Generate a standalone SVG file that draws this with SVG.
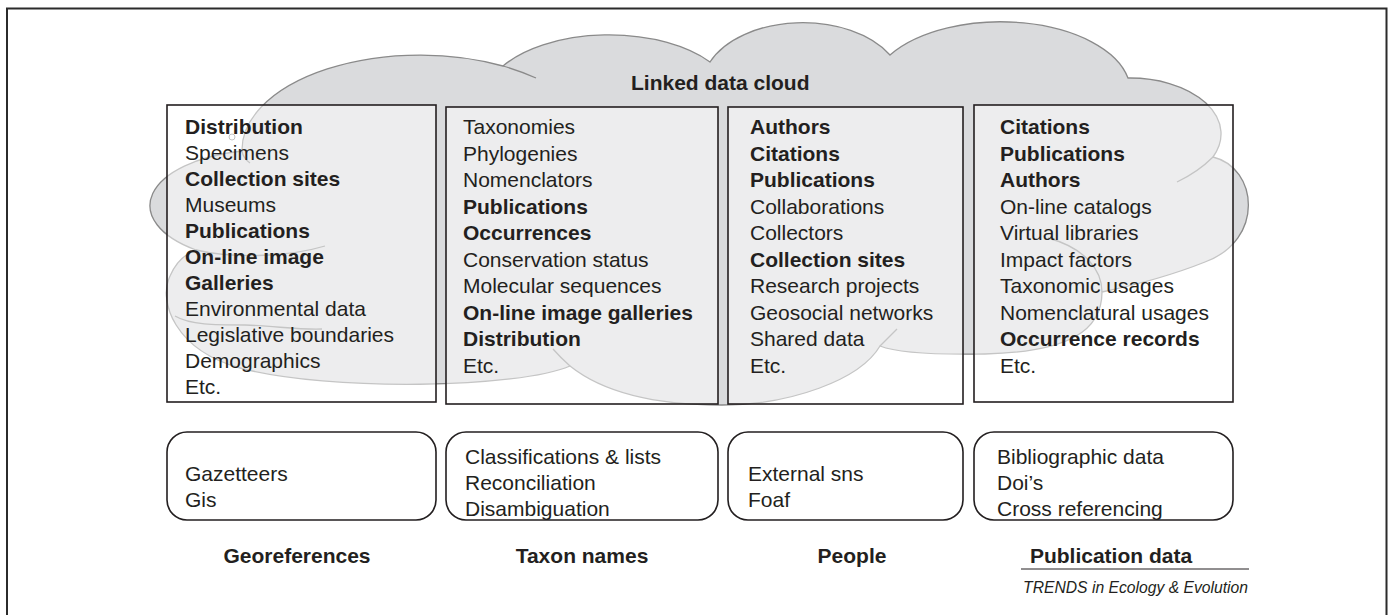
<svg xmlns="http://www.w3.org/2000/svg" width="1391" height="615" viewBox="0 0 1391 615">
<style>
text{font-family:"Liberation Sans",Arial,Helvetica,sans-serif;fill:#231f20;font-size:21px}
.b{font-weight:bold}
.cloud{fill:#dadbdd;stroke:#8a8a8a;stroke-width:1.3}
.tail{fill:none;stroke:#8a8a8a;stroke-width:1.3}
.box{fill:#ffffff;fill-opacity:0.5;stroke:#231f20;stroke-width:1.6}
.rbox{fill:#ffffff;stroke:#231f20;stroke-width:1.6}
</style>
<rect width="1391" height="615" fill="#ffffff"/>
<path d="M7,620 V8.5 H1386.5 V620" fill="none" stroke="#2b2b2b" stroke-width="2"/>
<g id="cloud">
<path class="cloud" d="M242,151 A178,95 0 0 1 503,66 A125,66 0 0 1 710,62 A100,63 0 0 1 890,55 A130,70 0 0 1 1128,78 A91,56 0 0 1 1213,157 C1258,168 1265,240 1205,262 C1175,274 1140,284 1102,292 C1102,330 1070,352 985,354 C930,355 895,352 880,346 C860,380 790,405 722,405 C650,405 600,390 570,366 C520,388 330,392 240,368 C175,350 158,302 170,276 C176,262 185,254 196,250 A118,56 0 0 1 242,151 Z"/>
<path class="tail" d="M242,151 Q243,158 250,163"/>
<path class="tail" d="M503,66 Q520,71 536,78"/>
<path class="tail" d="M1213,157 Q1198,172 1177,182"/>
<path class="tail" d="M1102,292 C1102,270 1085,248 1048,238"/>
<path class="tail" d="M880,346 Q888,338 897,329"/>
<path class="tail" d="M570,366 Q560,357 553,349"/>
<path class="tail" d="M196,250 C230,258 285,258 325,246"/>
<path class="tail" d="M175,316 C190,325 215,325 245,325 C275,326 300,330 322,329"/>
<circle cx="232" cy="137" r="3" fill="none" stroke="#8a8a8a" stroke-width="1"/>
</g>
<g id="box-georeferences">
<rect class="box" x="167" y="105" width="269" height="297"/>
<text x="185" y="134"><tspan class="b">Distribution</tspan><tspan x="185" dy="26">Specimens</tspan><tspan x="185" dy="26" class="b">Collection sites</tspan><tspan x="185" dy="26">Museums</tspan><tspan x="185" dy="26" class="b">Publications</tspan><tspan x="185" dy="26" class="b">On-line image</tspan><tspan x="185" dy="26" class="b">Galleries</tspan><tspan x="185" dy="26">Environmental data</tspan><tspan x="185" dy="26">Legislative boundaries</tspan><tspan x="185" dy="26">Demographics</tspan><tspan x="185" dy="26">Etc.</tspan></text>
</g>
<g id="box-taxon">
<rect class="box" x="446" y="107" width="272" height="297"/>
<text x="463" y="134"><tspan>Taxonomies</tspan><tspan x="463" dy="26.5">Phylogenies</tspan><tspan x="463" dy="26.5">Nomenclators</tspan><tspan x="463" dy="26.5" class="b">Publications</tspan><tspan x="463" dy="26.5" class="b">Occurrences</tspan><tspan x="463" dy="26.5">Conservation status</tspan><tspan x="463" dy="26.5">Molecular sequences</tspan><tspan x="463" dy="26.5" class="b">On-line image galleries</tspan><tspan x="463" dy="26.5" class="b">Distribution</tspan><tspan x="463" dy="26.5">Etc.</tspan></text>
</g>
<g id="box-people">
<rect class="box" x="728" y="107" width="235" height="297"/>
<text x="750" y="134"><tspan class="b">Authors</tspan><tspan x="750" dy="26.5" class="b">Citations</tspan><tspan x="750" dy="26.5" class="b">Publications</tspan><tspan x="750" dy="26.5">Collaborations</tspan><tspan x="750" dy="26.5">Collectors</tspan><tspan x="750" dy="26.5" class="b">Collection sites</tspan><tspan x="750" dy="26.5">Research projects</tspan><tspan x="750" dy="26.5">Geosocial networks</tspan><tspan x="750" dy="26.5">Shared data</tspan><tspan x="750" dy="26.5">Etc.</tspan></text>
</g>
<g id="box-publication">
<rect class="box" x="974" y="105" width="259" height="297"/>
<text x="1000" y="134"><tspan class="b">Citations</tspan><tspan x="1000" dy="26.5" class="b">Publications</tspan><tspan x="1000" dy="26.5" class="b">Authors</tspan><tspan x="1000" dy="26.5">On-line catalogs</tspan><tspan x="1000" dy="26.5">Virtual libraries</tspan><tspan x="1000" dy="26.5">Impact factors</tspan><tspan x="1000" dy="26.5">Taxonomic usages</tspan><tspan x="1000" dy="26.5">Nomenclatural usages</tspan><tspan x="1000" dy="26.5" class="b">Occurrence records</tspan><tspan x="1000" dy="26.5">Etc.</tspan></text>
</g>
<g id="title">
<text x="631" y="90" class="b">Linked data cloud</text>
</g>
<g id="node-georeferences">
<rect class="rbox" x="167" y="432" width="269" height="88" rx="20"/>
<text x="185" y="481">Gazetteers<tspan x="185" dy="26">Gis</tspan></text>
<text x="297" y="563" text-anchor="middle" class="b">Georeferences</text>
</g>
<g id="node-taxon">
<rect class="rbox" x="446" y="432" width="272" height="88" rx="20"/>
<text x="465" y="464">Classifications &amp; lists<tspan x="465" dy="26">Reconciliation</tspan><tspan x="465" dy="26">Disambiguation</tspan></text>
<text x="582" y="563" text-anchor="middle" class="b">Taxon names</text>
</g>
<g id="node-people">
<rect class="rbox" x="728" y="432" width="235" height="88" rx="20"/>
<text x="748" y="481">External sns<tspan x="748" dy="26">Foaf</tspan></text>
<text x="852" y="563" text-anchor="middle" class="b">People</text>
</g>
<g id="node-publication">
<rect class="rbox" x="974" y="432" width="259" height="88" rx="20"/>
<text x="997" y="464">Bibliographic data<tspan x="997" dy="26">Doi’s</tspan><tspan x="997" dy="26">Cross referencing</tspan></text>
<text x="1111" y="563" text-anchor="middle" class="b">Publication data</text>
</g>
<g id="connectors"></g>
<g id="credit">
<line x1="1021" y1="569" x2="1249" y2="569" stroke="#231f20" stroke-width="1"/>
<text x="1248" y="593" text-anchor="end" font-style="italic" style="font-size:15.7px">TRENDS in Ecology &amp; Evolution</text>
</g>
</svg>
